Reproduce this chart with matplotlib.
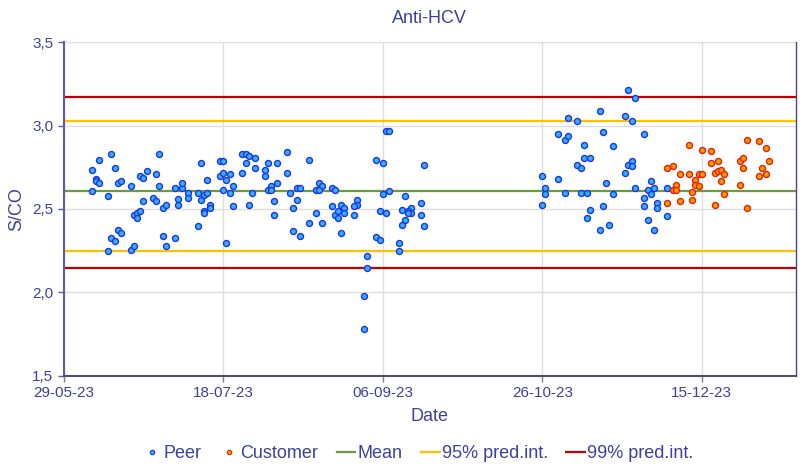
import matplotlib
matplotlib.use('Agg')
import matplotlib.pyplot as plt
import matplotlib.dates as mdates
from matplotlib.lines import Line2D
from matplotlib.ticker import FuncFormatter, FixedLocator
import datetime as dt

plt.rcParams['font.family'] = ['Liberation Sans', 'DejaVu Sans']

# ---------------- data ----------------
start_date = dt.datetime(2023, 5, 29)

peer_day = [9, 11, 15, 16, 10, 10, 11, 9, 14, 17, 18, 21, 24, 25, 26, 29, 30, 30, 25, 28,
            29, 22, 23, 24, 23, 17, 18, 15, 16, 14, 21, 22, 31, 32, 31, 32, 35, 37, 37, 36,
            36, 35, 39, 39, 42, 42, 43, 43, 44, 45, 45, 44, 44, 46, 46, 49, 50, 49, 50, 51,
            52, 50, 52, 53, 53, 51, 56, 57, 58, 57, 56, 60, 60, 59, 58, 64, 67, 63, 63, 70,
            70, 67, 64, 65, 65, 66, 66, 71, 73, 74, 73, 72, 72, 74, 77, 77, 79, 80, 81, 79,
            80, 81, 84, 85, 84, 85, 86, 86, 87, 88, 88, 87, 101, 102, 98, 100, 113, 102, 100, 107,
            112, 92, 92, 91, 91, 99, 101, 106, 109, 108, 109, 108, 112, 107, 106, 113, 98, 99, 105, 105,
            95, 95, 94, 94,
            177, 179, 168, 176, 158, 161, 178, 155, 157, 158, 169, 182, 163, 172, 163, 165, 161, 162,
            177, 178, 178, 176, 150, 155, 170, 184, 151, 151, 157, 162, 164, 172, 179, 183, 185, 184,
            189, 150, 165, 169, 164, 168, 171, 182, 182, 186, 186, 183, 185, 189]

peer_value = [2.736, 2.796, 2.827, 2.746, 2.680, 2.668, 2.656, 2.606, 2.578, 2.656, 2.666, 2.636,
              2.698, 2.686, 2.726, 2.710, 2.827, 2.636, 2.549, 2.568, 2.549, 2.465, 2.477, 2.486,
              2.447, 2.377, 2.357, 2.329, 2.309, 2.247, 2.257, 2.277, 2.507, 2.526, 2.339, 2.277,
              2.626, 2.626, 2.656, 2.558, 2.526, 2.327, 2.596, 2.566, 2.596, 2.397, 2.776, 2.556,
              2.586, 2.596, 2.676, 2.486, 2.477, 2.526, 2.507, 2.786, 2.786, 2.698, 2.716, 2.676,
              2.710, 2.616, 2.596, 2.636, 2.516, 2.297, 2.827, 2.827, 2.818, 2.776, 2.716, 2.806,
              2.746, 2.596, 2.526, 2.776, 2.776, 2.736, 2.698, 2.844, 2.716, 2.656, 2.616, 2.636,
              2.616, 2.549, 2.467, 2.596, 2.626, 2.626, 2.556, 2.507, 2.367, 2.339, 2.796, 2.419,
              2.477, 2.656, 2.636, 2.616, 2.616, 2.419, 2.626, 2.616, 2.516, 2.467, 2.486, 2.447,
              2.526, 2.507, 2.477, 2.357, 2.965, 2.965, 2.796, 2.776, 2.766, 2.606, 2.588, 2.576,
              2.537, 2.556, 2.526, 2.516, 2.467, 2.486, 2.477, 2.497, 2.507, 2.486, 2.477, 2.477,
              2.467, 2.437, 2.407, 2.397, 2.331, 2.317, 2.297, 2.247, 2.217, 2.148, 1.978, 1.778,
              3.215, 3.167, 3.087, 3.059, 3.047, 3.027, 3.027, 2.949, 2.915, 2.937, 2.959, 2.949,
              2.885, 2.875, 2.806, 2.806, 2.766, 2.746, 2.766, 2.786, 2.756, 2.716, 2.698, 2.678,
              2.656, 2.666, 2.626, 2.588, 2.596, 2.596, 2.596, 2.588, 2.626, 2.616, 2.626, 2.588,
              2.626, 2.526, 2.497, 2.516, 2.449, 2.377, 2.407, 2.568, 2.516, 2.537, 2.507, 2.437,
              2.377, 2.461]

customer_day = [196, 200, 203, 214, 218, 220, 189, 191, 193, 196, 199, 200, 203, 205, 204, 205,
                206, 207, 212, 213, 213, 219, 221, 218, 220, 198, 198, 192, 199, 191, 192, 197,
                206, 212, 207, 189, 193, 197, 204, 214]

customer_value = [2.885, 2.856, 2.845, 2.915, 2.905, 2.866, 2.746, 2.756, 2.708, 2.708, 2.708,
                  2.708, 2.776, 2.786, 2.716, 2.726, 2.736, 2.708, 2.786, 2.806, 2.746, 2.746,
                  2.786, 2.696, 2.708, 2.676, 2.646, 2.646, 2.636, 2.614, 2.614, 2.604, 2.666,
                  2.646, 2.588, 2.537, 2.546, 2.556, 2.526, 2.507]

mean_value = 2.608
pi95_low, pi95_high = 2.247, 3.025
pi99_low, pi99_high = 2.144, 3.170

x_tick_days = [0, 50, 100, 150, 200]
x_end_day = 229.5
y_ticks = [1.5, 2.0, 2.5, 3.0, 3.5]

# ---------------- styling ----------------
text_color = '#3f3f9c'
peer_face, peer_edge = '#35b2ff', '#1a33e6'
cust_face, cust_edge = '#ff9c00', '#e3200c'
mean_color = '#6b9a3f'
pi95_color = '#ffc000'
pi99_color = '#c00000'
grid_color = '#dedede'


def to_date(d):
    return start_date + dt.timedelta(days=d)


peer_dates = [to_date(d) for d in peer_day]
cust_dates = [to_date(d) for d in customer_day]

W, H = 802, 466
fig = plt.figure(figsize=(W / 100, H / 100), dpi=100)
left_px, right_px, top_px, bottom_px = 63.6, 796, 42.3, 375.7
ax = fig.add_axes([left_px / W, 1 - bottom_px / H, (right_px - left_px) / W, (bottom_px - top_px) / H])

ax.set_xlim(to_date(0), to_date(x_end_day))
ax.set_ylim(y_ticks[0], y_ticks[-1])

ax.grid(True, color=grid_color, lw=1.0, zorder=0)
ax.set_axisbelow(True)

lw = 1.6
ax.axhline(mean_value, color=mean_color, lw=lw, zorder=2)
ax.axhline(pi95_low, color=pi95_color, lw=lw, zorder=2)
ax.axhline(pi95_high, color=pi95_color, lw=lw, zorder=2)
ax.axhline(pi99_low, color=pi99_color, lw=lw, zorder=2)
ax.axhline(pi99_high, color=pi99_color, lw=lw, zorder=2)

ms = 4.3
ax.plot(peer_dates, peer_value, ls='none', marker='o', ms=ms, mfc=peer_face, mec=peer_edge,
        mew=1.0, zorder=3)
ax.plot(cust_dates, customer_value, ls='none', marker='o', ms=ms, mfc=cust_face, mec=cust_edge,
        mew=1.0, zorder=3)

ax.xaxis.set_major_locator(FixedLocator([mdates.date2num(to_date(d)) for d in x_tick_days]))
ax.xaxis.set_major_formatter(mdates.DateFormatter('%d-%m-%y'))
ax.yaxis.set_major_locator(FixedLocator(y_ticks))
ax.yaxis.set_major_formatter(FuncFormatter(lambda v, p: f'{v:.1f}'.replace('.', ',')))

ax.tick_params(axis='both', labelsize=11, labelcolor=text_color, length=4, width=1)
ax.tick_params(axis='y', color='#5b5bb0')
ax.tick_params(axis='x', color='#808090')

ax.spines['top'].set_visible(False)
ax.spines['left'].set_color('#5b5bb0')
ax.spines['left'].set_linewidth(1.5)
ax.spines['bottom'].set_color('#505062')
ax.spines['bottom'].set_linewidth(1.5)
ax.spines['right'].set_color('#4444a0')
ax.spines['right'].set_linewidth(1.0)

ax.set_title('Anti-HCV', fontsize=13, color=text_color, pad=14)
ax.set_xlabel('Date', fontsize=13, color=text_color, labelpad=6)
ax.set_ylabel('S/CO', fontsize=13, color=text_color, labelpad=5)

handles = [
    Line2D([], [], ls='none', marker='o', ms=3.2, mfc=peer_face, mec=peer_edge, mew=0.8),
    Line2D([], [], ls='none', marker='o', ms=3.2, mfc=cust_face, mec=cust_edge, mew=0.8),
    Line2D([], [], color=mean_color, lw=lw),
    Line2D([], [], color=pi95_color, lw=lw),
    Line2D([], [], color=pi99_color, lw=lw),
]
labels = ['Peer', 'Customer', 'Mean', '95% pred.int.', '99% pred.int.']
leg = fig.legend(handles, labels, loc='center', bbox_to_anchor=(0.521, 0.027), ncol=5,
                 frameon=False, fontsize=13, handlelength=1.05, handletextpad=0.12,
                 columnspacing=1.0, borderaxespad=0, borderpad=0)
for t in leg.get_texts():
    t.set_color(text_color)

fig.savefig('out.png', dpi=100)
